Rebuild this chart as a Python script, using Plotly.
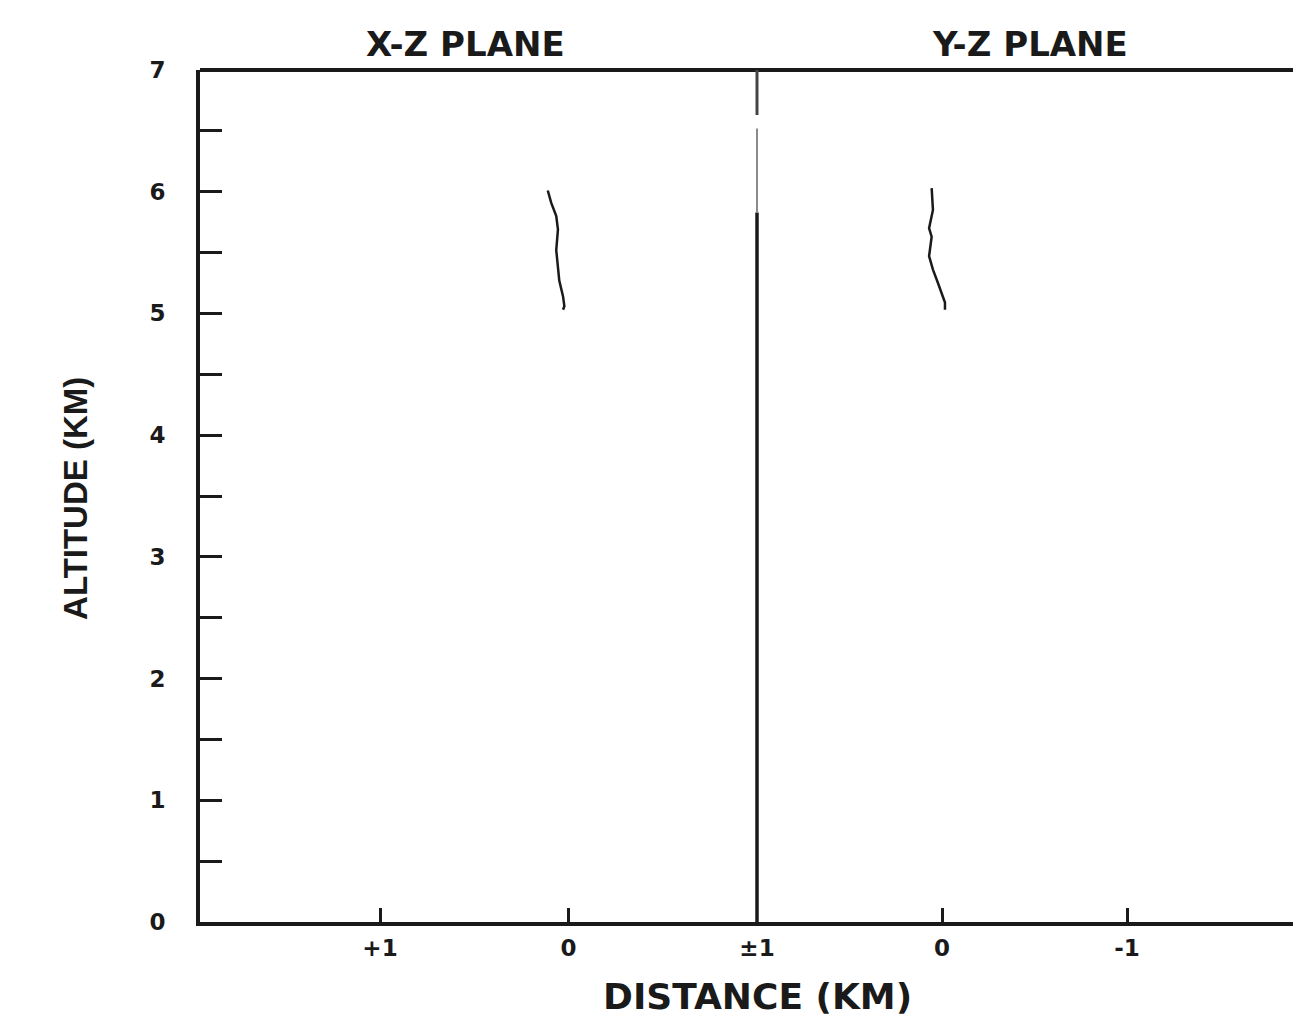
import plotly.graph_objects as go

# X-Z plane trace: horizontal distance (km) vs altitude (km)
xz_dist = [0.110, 0.092, 0.065, 0.056, 0.065, 0.056, 0.049, 0.029, 0.022, 0.029]
xz_alt = [6.01, 5.91, 5.80, 5.69, 5.52, 5.38, 5.27, 5.14, 5.06, 5.03]

# Y-Z plane trace
yz_dist = [0.056, 0.049, 0.070, 0.056, 0.070, 0.049, 0.022, 0.002, -0.016, -0.016]
yz_alt = [6.03, 5.85, 5.70, 5.63, 5.47, 5.36, 5.25, 5.17, 5.09, 5.03]

left_tickvals = [1, 0, -1]
left_ticktext = ["+1", "0", "±1"]
right_tickvals = [0, -1]
right_ticktext = ["0", "-1"]
alt_ticks = [0, 1, 2, 3, 4, 5, 6, 7]
ALT_MAX = 7

INK = "#1a1a1a"
FONT = "DejaVu Sans"
TICKFONT = dict(family=FONT, size=23, color=INK, weight="bold")

fig = go.Figure()
fig.add_trace(go.Scatter(x=xz_dist, y=xz_alt, xaxis="x", yaxis="y", mode="lines",
                         line=dict(color=INK, width=2.5), showlegend=False))
fig.add_trace(go.Scatter(x=yz_dist, y=yz_alt, xaxis="x2", yaxis="y", mode="lines",
                         line=dict(color=INK, width=2.5), showlegend=False))

d = (757 - 200) / 1093

axis_common = dict(showline=True, linewidth=4, linecolor=INK, ticks="inside",
                   ticklen=14, tickwidth=3, tickcolor=INK, showgrid=False, zeroline=False,
                   tickfont=TICKFONT, ticklabelstandoff=2, automargin=False)

fig.update_layout(
    width=1293, height=1031, autosize=False,
    margin=dict(l=200, r=0, t=70, b=109, pad=0),
    paper_bgcolor="white", plot_bgcolor="white",
    xaxis=dict(domain=[0, d], range=[1.955, -1], tickvals=left_tickvals,
               ticktext=left_ticktext, anchor="y", **axis_common),
    xaxis2=dict(domain=[d, 1], range=[1, -1.897], tickvals=right_tickvals,
                ticktext=right_ticktext, anchor="y", **axis_common),
    yaxis=dict(domain=[0, 1], range=[0, ALT_MAX], tickvals=alt_ticks, showline=True,
               linewidth=4, linecolor=INK, ticks="inside", ticklen=22, tickwidth=3,
               tickcolor=INK, showgrid=False, zeroline=False, automargin=False,
               minor=dict(dtick=0.5, tick0=0.5, ticks="inside", ticklen=22, tickwidth=3,
                          tickcolor=INK),
               tickfont=TICKFONT, ticklabelstandoff=26),
    showlegend=False,
)

# frame top line
fig.add_shape(type="line", xref="paper", yref="paper", x0=0, x1=1, y0=1, y1=1,
              line=dict(color=INK, width=4))
# panel divider at the shared ±1 km line (paper coords so it is not clipped)
for y0, y1, col, w in [(0, 5.83, INK, 3.5), (5.83, 6.52, "#8a8a8a", 2), (6.63, 7, "#444444", 3)]:
    fig.add_shape(type="line", xref="paper", yref="paper", x0=d, x1=d,
                  y0=y0 / ALT_MAX, y1=y1 / ALT_MAX, line=dict(color=col, width=w))

ann_font = dict(family=FONT, size=34, color=INK, weight="bold")
fig.add_annotation(text="X-Z PLANE", xref="paper", yref="paper", x=0.2425, y=1.0305,
                   xanchor="center", yanchor="middle", showarrow=False, font=ann_font)
fig.add_annotation(text="Y-Z PLANE", xref="paper", yref="paper", x=0.7594, y=1.0305,
                   xanchor="center", yanchor="middle", showarrow=False, font=ann_font)
fig.add_annotation(text="DISTANCE (KM)", xref="paper", yref="paper", x=0.5105, y=-0.088,
                   xanchor="center", yanchor="middle", showarrow=False,
                   font=dict(family=FONT, size=36, color=INK, weight="bold"))
fig.add_annotation(text="ALTITUDE (KM)", xref="paper", yref="paper", x=-0.1135, y=0.4977,
                   xanchor="center", yanchor="middle", showarrow=False, textangle=-90,
                   font=dict(family="Liberation Sans Narrow, Liberation Sans", size=33,
                             color=INK, weight="bold"))

fig.write_html("out.html", config={"responsive": False})
